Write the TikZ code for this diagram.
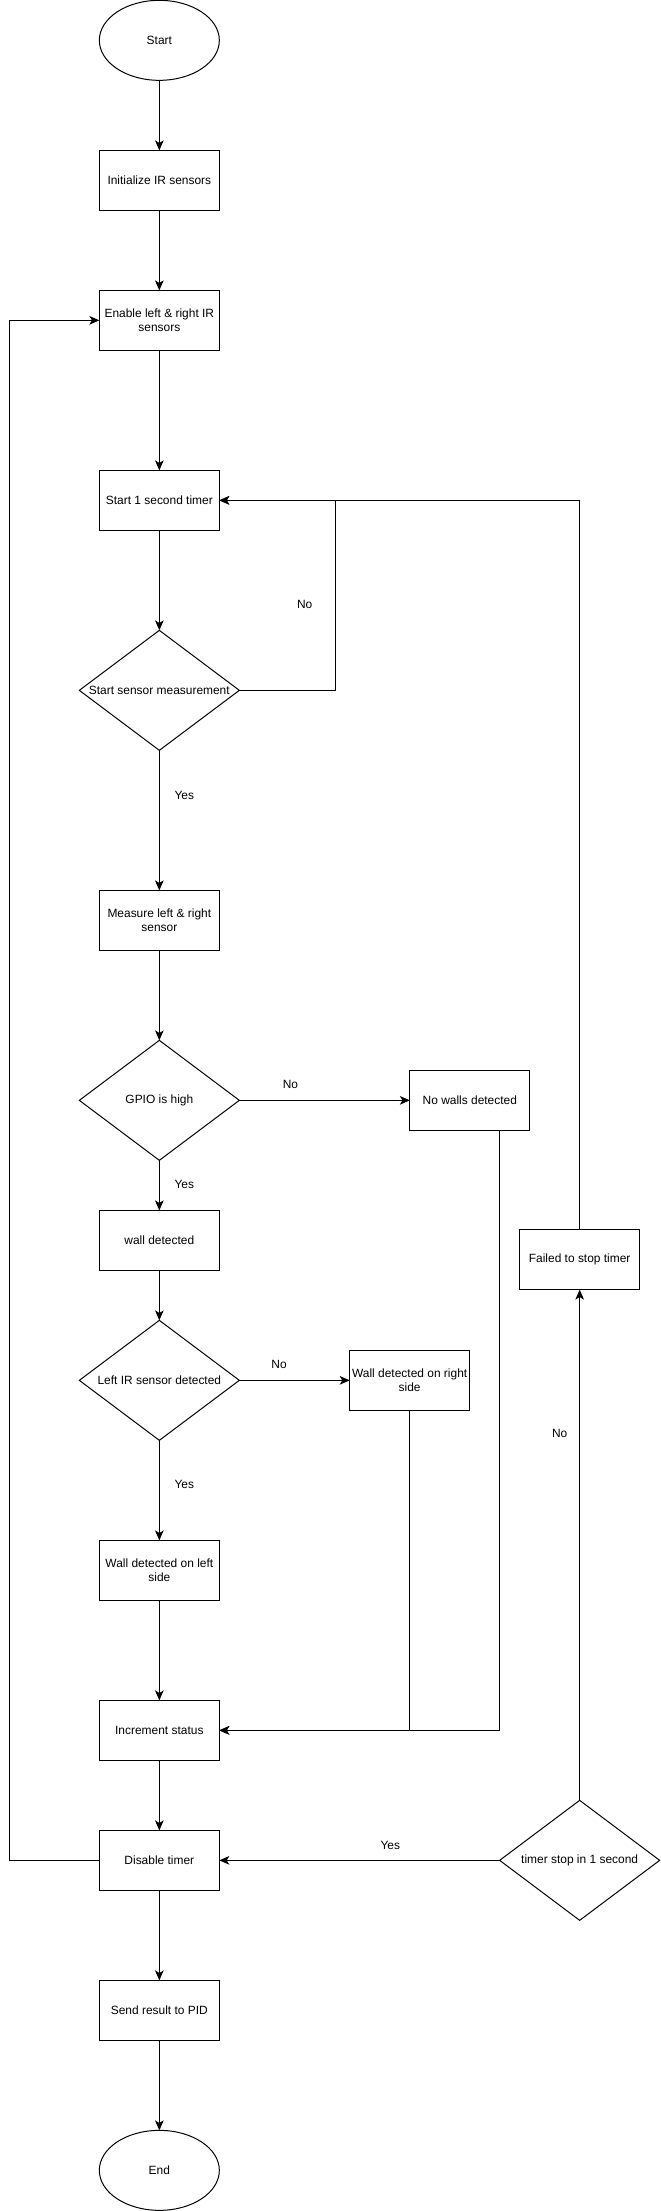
\documentclass[tikz,border=0pt]{standalone}
\usepackage{fontspec}
\setmainfont{Liberation Sans}
\usepackage{tikz}
\usetikzlibrary{shapes.geometric, arrows.meta, positioning}
\usepackage{xcolor}
\definecolor{cBlock}{HTML}{FFFFFF}
\definecolor{cBlockText}{HTML}{000000}
\definecolor{cLine}{HTML}{000000}
\tikzset{
  terminal/.style = {
    ellipse,
    draw=cLine,
    line width=0.85pt,
    fill=cBlock,
    text=cBlockText,
    minimum width=3.6cm,
    minimum height=2.4cm,
    inner sep=0pt,
    outer sep=0pt,
    font=\fontsize{10.2pt}{12pt}\selectfont
  },
  block/.style = {
    rectangle,
    draw=cLine,
    line width=0.85pt,
    fill=cBlock,
    text=cBlockText,
    align=center,
    minimum width=3.6cm,
    minimum height=1.8cm,
    inner sep=0pt,
    outer sep=0pt,
    font=\fontsize{10.2pt}{12pt}\selectfont
  },
  decision/.style = {
    diamond,
    aspect=1.3333,
    draw=cLine,
    line width=0.85pt,
    fill=cBlock,
    text=cBlockText,
    minimum width=4.8cm,
    minimum height=3.6cm,
    inner sep=0pt,
    outer sep=0pt,
    font=\fontsize{10.2pt}{12pt}\selectfont
  },
  line/.style = {
    draw,
    line width=0.85pt,
    color=cLine,
    -{Stealth[length=0.3cm, width=0.26cm, inset=0.08cm]},
  },
  lbl/.style = {
    text=cBlockText,
    inner sep=0pt,
    font=\fontsize{10.2pt}{12pt}\selectfont
  },
}
\begin{document}
\begin{tikzpicture}
    \useasboundingbox (0,0) rectangle (19.8,-66.33);
    \node [terminal] (start) at (4.78,-1.21) {Start};
    \node [block, below=2.1cm of start] (init) {Initialize IR sensors};
    \node [block, below=2.4cm of init] (enable) {Enable left \& right IR\\sensors};
    \node [block, below=3.6cm of enable] (timer) {Start 1 second timer};
    \node [decision, below=3.0cm of timer] (measure-q) {Start sensor measurement};
    \node [block, below=4.2cm of measure-q] (measure) {Measure left \& right\\sensor};
    \node [decision, below=2.7cm of measure] (gpio-q) {GPIO is high};
    \node [block, right=5.115cm of gpio-q] (no-walls) {No walls detected};
    \node [block, below=1.5cm of gpio-q] (wall) {wall detected};
    \node [decision, below=1.5cm of wall] (left-q) {Left IR sensor detected};
    \node [block, right=3.31cm of left-q] (wall-right) {Wall detected on right\\side};
    \node [block, below=3.0cm of left-q] (wall-left) {Wall detected on left\\side};
    \node [block, below=3.0cm of wall-left] (incr) {Increment status};
    \node [block, below=2.1cm of incr] (disable) {Disable timer};
    \node [decision, right=8.41cm of disable] (stop-q) {timer stop in 1 second};
    \node [block, above=15.32cm of stop-q] (failed) {Failed to stop timer};
    \node [block, below=2.7cm of disable] (send) {Send result to PID};
    \node [terminal, below=2.7cm of send] (end) {End};
    \path [line] (start) -- (init);
    \path [line] (init) -- (enable);
    \path [line] (enable) -- (timer);
    \path [line] (timer) -- (measure-q);
    \path [line] (measure-q) -- node [lbl, pos=0.32, xshift=0.75cm] {Yes} (measure);
    \path [line] (measure-q.east) -- ++(2.87,0) |- node [lbl, pos=0.226, xshift=-0.91cm] {No} (timer.east);
    \path [line] (measure) -- (gpio-q);
    \path [line] (gpio-q) -- node [lbl, pos=0.48, xshift=0.75cm] {Yes} (wall);
    \path [line] (gpio-q) -- node [lbl, pos=0.3, yshift=0.47cm] {No} (no-walls);
    \path [line] (wall) -- (left-q);
    \path [line] (left-q) -- node [lbl, pos=0.44, xshift=0.75cm] {Yes} (wall-left);
    \path [line] (left-q) -- node [lbl, pos=0.36, yshift=0.47cm] {No} (wall-right);
    \path [line] (wall-left) -- (incr);
    \path [line] (wall-right.south) |- (incr.east);
    \path [line] ([xshift=0.9cm]no-walls.south) |- (incr.east);
    \path [line] (incr) -- (disable);
    \path [line] (disable.west) -- ++(-2.7,0) |- (enable.west);
    \path [line] (stop-q) -- node [lbl, pos=0.39, yshift=0.46cm] {Yes} (disable);
    \path [line] (stop-q) -- node [lbl, pos=0.718, xshift=-0.6cm] {No} (failed);
    \path [line] (failed.north) |- (timer.east);
    \path [line] (disable) -- (send);
    \path [line] (send) -- (end);
  \end{tikzpicture}
\end{document}
